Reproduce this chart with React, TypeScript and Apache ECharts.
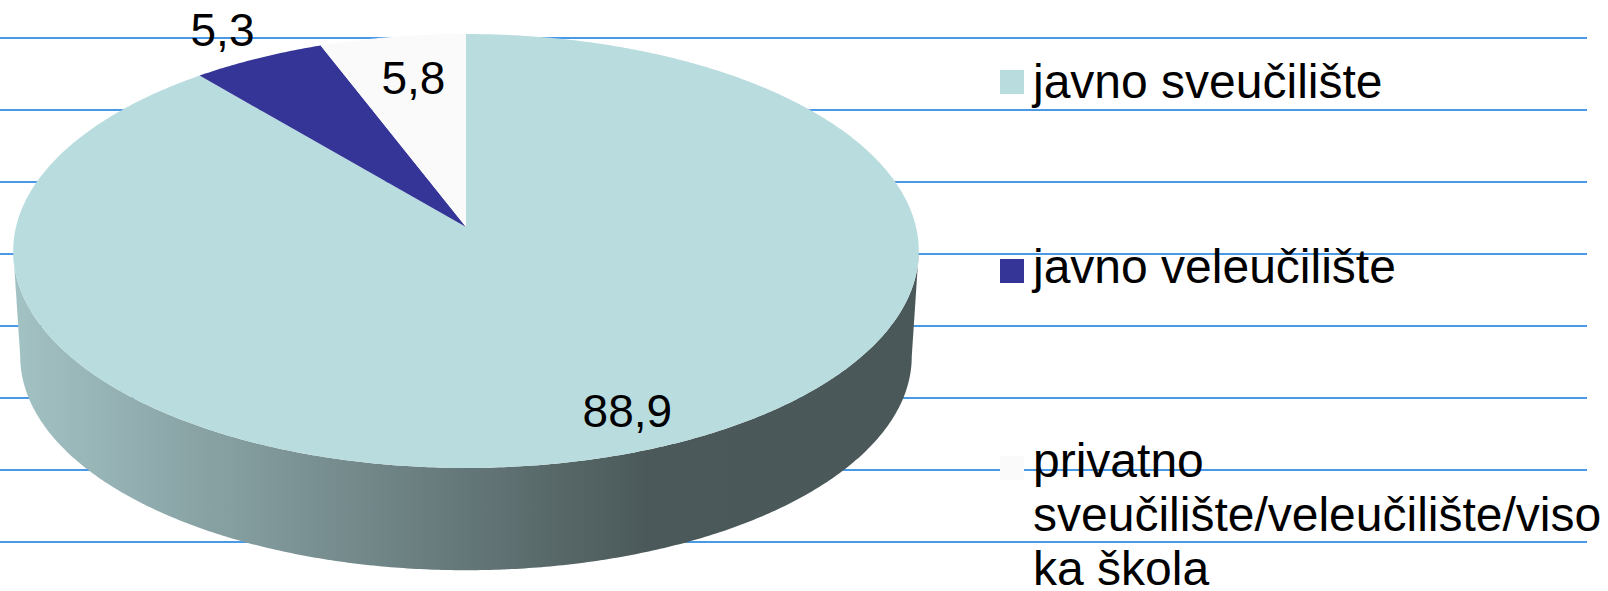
import React, { useEffect, useRef } from 'react';
import * as echarts from 'echarts';

// ---- data ----
const categories = [
  'javno sveučilište',
  'javno veleučilište',
  'privatno sveučilište/veleučilište/visoka škola',
];
const legendLabels = [
  'javno sveučilište',
  'javno veleučilište',
  'privatno\nsveučilište/veleučilište/viso\nka škola',
];
const shares = [88.9, 5.3, 5.8];
const sliceColors = ['#b9dcdf', '#353597', '#fafafa'];
const gridLevels = [0, 7]; // background rule lines: min/max of the hidden value axis

// ---- layout / style constants ----
const FONT = "'Liberation Sans', Arial, Helvetica, sans-serif";
const CX = 466;
const PERSP = 0.1106;
const TOP = { apexY: 227, a: 450, b: 214.3 };
const BOT = { apexY: 333, a: 443, b: 211 };
const labelRadius = [0.85, 1.19, 0.765];
const labelNudge = [
  [18, -4],
  [0, 0],
  [5, 0],
];
const legendIconCY = [82, 271, 468];
const legendFirstLineCY = [81, 266.5, 460.5];
const LEGEND_LINE_STEP = 54;

function project(r: number, deg: number, face: { apexY: number; a: number; b: number }) {
  const t = (deg * Math.PI) / 180;
  const u = r * Math.sin(t);
  const v = r * Math.cos(t);
  const w = 1 + PERSP * v;
  return [CX + (face.a * u) / w, face.apexY - (face.b * v) / w];
}

function arc(a1: number, a2: number, face: any) {
  const pts: number[][] = [];
  const n = Math.max(2, Math.ceil(Math.abs(a2 - a1) / 0.5));
  for (let j = 0; j <= n; j++) {
    pts.push(project(1, a1 + ((a2 - a1) * j) / n, face));
  }
  return pts;
}

function shade(hex: string, f: number) {
  const n = parseInt(hex.slice(1), 16);
  const r = Math.round(((n >> 16) & 255) * f);
  const g = Math.round(((n >> 8) & 255) * f);
  const b = Math.round((n & 255) * f);
  return `rgb(${r},${g},${b})`;
}

export default function App() {
  const ref = useRef<HTMLDivElement>(null);

  useEffect(() => {
    if (!ref.current) return;
    const chart = echarts.init(ref.current, null, { renderer: 'svg' });
    const total = shares.reduce((s, v) => s + v, 0);
    let cum = 0;
    const seriesData = shares.map((v, i) => {
      const d = { name: categories[i], value: [v, cum] };
      cum += v;
      return d;
    });
    const thetaR = (Math.acos(-PERSP) * 180) / Math.PI;
    const thetaL = 360 - thetaR;
    const leftX = CX - TOP.a / Math.sqrt(1 - PERSP * PERSP);
    const rightX = CX + TOP.a / Math.sqrt(1 - PERSP * PERSP);

    const renderItem = (params: any, api: any) => {
      const i = params.dataIndex;
      const value = api.value(0);
      const start = api.value(1);
      const a1 = (start / total) * 360;
      const a2 = ((start + value) / total) * 360;
      const children: any[] = [];
      const lo = Math.max(a1, thetaR);
      const hi = Math.min(a2, thetaL);
      if (lo < hi) {
        const pts = arc(lo, hi, TOP).concat(arc(hi, lo, BOT));
        children.push({
          type: 'polygon',
          shape: { points: pts },
          style: {
            fill: new echarts.graphic.LinearGradient(
              leftX,
              0,
              rightX,
              0,
              [
                { offset: 0, color: shade(sliceColors[i], 0.88) },
                { offset: 0.7, color: shade(sliceColors[i], 0.405) },
                { offset: 1, color: shade(sliceColors[i], 0.4) },
              ],
              true
            ),
            stroke: null,
          },
        });
      }
      const apex = project(0, 0, TOP);
      children.push({
        type: 'polygon',
        shape: { points: [apex].concat(arc(a1, a2, TOP)) },
        style: { fill: sliceColors[i], stroke: null },
      });
      const mid = (a1 + a2) / 2;
      const lp = project(labelRadius[i], mid, TOP);
      children.push({
        type: 'text',
        x: lp[0] + labelNudge[i][0],
        y: lp[1] + labelNudge[i][1],
        style: {
          text: value.toFixed(1).replace('.', ','),
          fill: '#000000',
          font: `46px ${FONT}`,
          align: 'center',
          verticalAlign: 'middle',
          textAlign: 'center',
          textVerticalAlign: 'middle',
        },
      });
      return { type: 'group', children };
    };

    const legendGraphics: any[] = [];
    categories.forEach((c, i) => {
      legendGraphics.push({
        type: 'rect',
        left: 1000,
        top: legendIconCY[i] - 12,
        shape: { width: 24, height: 24 },
        style: { fill: sliceColors[i] },
        z: 10,
      });
      legendLabels[i].split('\n').forEach((line, k) => {
        legendGraphics.push({
          type: 'text',
          x: 1033,
          y: legendFirstLineCY[i] + k * LEGEND_LINE_STEP,
          style: {
            text: line,
            fill: '#000000',
            font: `48px ${FONT}`,
            lineHeight: 44,
            align: 'left',
            verticalAlign: 'middle',
            textAlign: 'left',
            textVerticalAlign: 'middle',
          },
          z: 10,
        });
      });
    });

    chart.setOption({
      animation: false,
      backgroundColor: '#ffffff',
      grid: { left: 0, right: 21, top: 38, bottom: 49, containLabel: false },
      xAxis: { type: 'value', show: false, min: 0, max: 1 },
      yAxis: {
        type: 'value',
        min: gridLevels[0],
        max: gridLevels[1],
        interval: 1,
        axisLabel: { show: false },
        axisLine: { show: false },
        axisTick: { show: false },
        splitLine: { show: true, lineStyle: { color: '#4a98e8', width: 2 } },
      },
      series: [
        {
          type: 'custom',
          coordinateSystem: 'none',
          renderItem,
          data: seriesData,
          silent: true,
        },
      ],
      graphic: legendGraphics,
    });
    return () => chart.dispose();
  }, []);

  return (
    <div
      ref={ref}
      style={{ position: 'fixed', left: 0, top: 0, width: 1608, height: 591, background: '#fff' }}
    />
  );
}
